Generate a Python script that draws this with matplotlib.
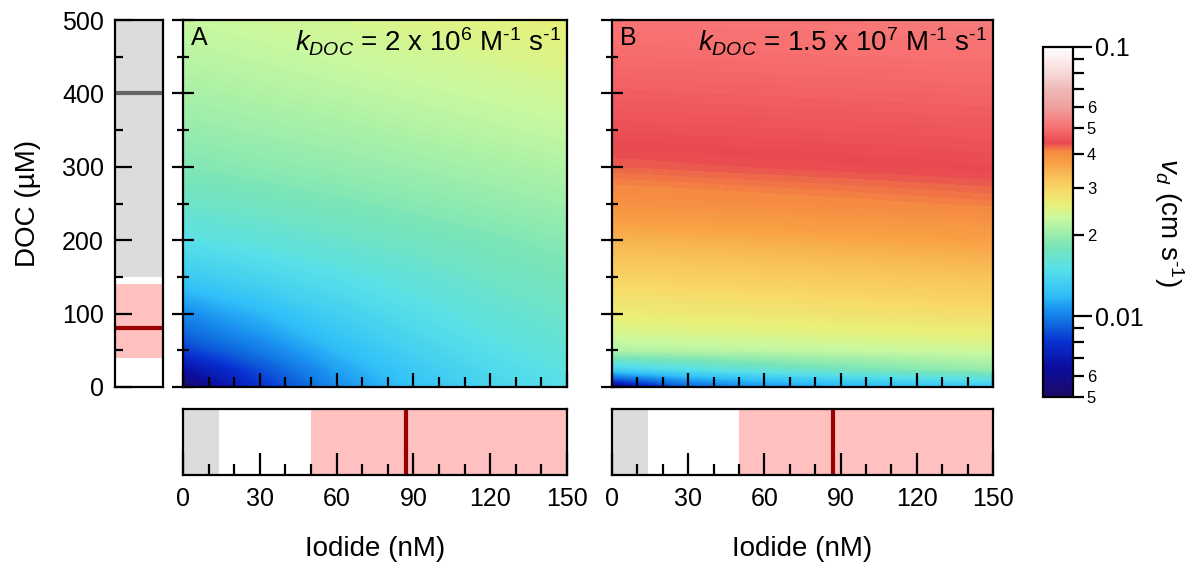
import numpy as np
import matplotlib
matplotlib.use("Agg")
import matplotlib.pyplot as plt
from matplotlib.colors import LinearSegmentedColormap, LogNorm
from matplotlib.cm import ScalarMappable
from matplotlib.ticker import MultipleLocator, FixedLocator, FuncFormatter

plt.rcParams['font.family'] = ['Liberation Sans', 'DejaVu Sans']
plt.rcParams['mathtext.fontset'] = 'custom'
plt.rcParams['mathtext.rm'] = 'Liberation Sans'
plt.rcParams['mathtext.it'] = 'Liberation Sans:italic'

# grid the deposition velocity was read on
iodide_nM = [0, 15, 30, 60, 90, 120, 150]
doc_uM = [0, 10, 25, 50, 75, 100, 150, 200, 250, 300, 350, 400, 450, 500]

# v_d (cm s-1), rows = DOC, cols = iodide; k_DOC = 2e6
vd_A = [
    [0.0050, 0.0065, 0.0078, 0.0103, 0.0122, 0.0138, 0.0150],
    [0.0057, 0.0070, 0.0082, 0.0106, 0.0125, 0.0140, 0.0152],
    [0.0066, 0.0076, 0.0087, 0.0110, 0.0128, 0.0143, 0.0155],
    [0.0082, 0.0090, 0.0098, 0.0118, 0.0135, 0.0149, 0.0160],
    [0.0093, 0.0100, 0.0108, 0.0126, 0.0141, 0.0155, 0.0165],
    [0.0102, 0.0110, 0.0117, 0.0133, 0.0147, 0.0160, 0.0170],
    [0.0128, 0.0133, 0.0138, 0.0149, 0.0160, 0.0171, 0.0180],
    [0.0150, 0.0154, 0.0158, 0.0166, 0.0174, 0.0182, 0.0190],
    [0.0169, 0.0172, 0.0175, 0.0182, 0.0189, 0.0196, 0.0203],
    [0.0185, 0.0188, 0.0191, 0.0197, 0.0203, 0.0209, 0.0215],
    [0.0198, 0.0201, 0.0204, 0.0209, 0.0215, 0.0221, 0.0227],
    [0.0210, 0.0212, 0.0215, 0.0220, 0.0226, 0.0232, 0.0238],
    [0.0220, 0.0222, 0.0225, 0.0231, 0.0237, 0.0243, 0.0249],
    [0.0230, 0.0232, 0.0235, 0.0241, 0.0247, 0.0253, 0.0260],
]
# k_DOC = 1.5e7
vd_B = [
    [0.0050, 0.0072, 0.0090, 0.0105, 0.0113, 0.0119, 0.0125],
    [0.0085, 0.0097, 0.0108, 0.0121, 0.0132, 0.0141, 0.0150],
    [0.0135, 0.0143, 0.0150, 0.0165, 0.0178, 0.0190, 0.0200],
    [0.0215, 0.0217, 0.0219, 0.0223, 0.0227, 0.0231, 0.0235],
    [0.0243, 0.0245, 0.0247, 0.0251, 0.0255, 0.0259, 0.0263],
    [0.0265, 0.0267, 0.0269, 0.0273, 0.0278, 0.0283, 0.0288],
    [0.0302, 0.0304, 0.0306, 0.0311, 0.0316, 0.0321, 0.0326],
    [0.0345, 0.0347, 0.0349, 0.0354, 0.0359, 0.0364, 0.0370],
    [0.0395, 0.0397, 0.0399, 0.0403, 0.0407, 0.0411, 0.0415],
    [0.0428, 0.0429, 0.0431, 0.0434, 0.0437, 0.0440, 0.0443],
    [0.0450, 0.0451, 0.0452, 0.0454, 0.0456, 0.0458, 0.0460],
    [0.0470, 0.0471, 0.0472, 0.0474, 0.0476, 0.0478, 0.0480],
    [0.0490, 0.0491, 0.0492, 0.0494, 0.0496, 0.0498, 0.0500],
    [0.0510, 0.0511, 0.0512, 0.0514, 0.0516, 0.0518, 0.0520],
]

# observed ranges shown in the side strips
doc_grey = (150, 500)
doc_pink = (40, 140)
doc_median = 80
doc_line = 400
iodide_grey = (0, 14)
iodide_pink = (50, 150)
iodide_median = 87

vmin, vmax = 0.005, 0.1

# colour scale anchors (value, colour)
cmap_vals = [0.005, 0.0065, 0.008, 0.0095, 0.0105, 0.012, 0.015, 0.018, 0.021,
             0.023, 0.026, 0.0295, 0.033, 0.037, 0.041, 0.044, 0.05, 0.06, 0.07,
             0.08, 0.1]
cmap_cols = ['#1e0a64', '#0a0ea0', '#0830d0', '#1070e0', '#1a90f0', '#30c0f8',
             '#58e0e8', '#78e4b8', '#a8f0a8', '#c8f8a0', '#e8f078', '#f8d868',
             '#f8c058', '#f8a044', '#f58a42', '#e84850', '#f87070', '#f0a0a0',
             '#f0b8b8', '#f8d8d8', '#ffffff']
pos = [np.log(v / vmin) / np.log(vmax / vmin) for v in cmap_vals]
cmap = LinearSegmentedColormap.from_list('vd', list(zip(pos, cmap_cols)), N=512)

fig = plt.figure(figsize=(11.97, 5.69), dpi=100)
W, H = 1197, 569


def box(x0, y0, x1, y1):
    return [x0 / W, 1 - y1 / H, (x1 - x0) / W, (y1 - y0) / H]


ax_strip = fig.add_axes(box(115, 20, 163, 387))
ax_a = fig.add_axes(box(183, 20, 567, 387))
ax_b = fig.add_axes(box(612, 20, 993, 387))
ax_ia = fig.add_axes(box(183, 409, 567, 475))
ax_ib = fig.add_axes(box(612, 409, 993, 475))
cax = fig.add_axes(box(1043, 47, 1073, 397))

fs = 18
fl = 20
lw = 1.6

# DOC strip
ax_strip.axhspan(*doc_grey, color='#dcdcdc', lw=0)
ax_strip.axhspan(*doc_pink, color='#ffc0c0', lw=0)
ax_strip.axhline(doc_median, color='#9b0000', lw=3)
ax_strip.axhline(doc_line, color='#666666', lw=3)
ax_strip.set_xlim(0, 1)
ax_strip.set_ylim(0, 500)
ax_strip.set_xticks([])
ax_strip.yaxis.set_major_locator(MultipleLocator(100))
ax_strip.yaxis.set_minor_locator(MultipleLocator(50))
ax_strip.tick_params(axis='y', which='major', direction='in', length=12, width=lw,
                     labelsize=fs, pad=8)
ax_strip.tick_params(axis='y', which='minor', direction='in', length=6, width=lw)
ax_strip.set_ylabel('DOC (µM)', fontsize=fl, labelpad=15)

levels = np.linspace(np.log10(vmin), np.log10(vmax), 241)
for ax, vd, tag, txt in [
        (ax_a, vd_A, 'A', r'$k_{DOC}$ = 2 x 10$^{6}$ M$^{\text{-}1}$ s$^{\text{-}1}$'),
        (ax_b, vd_B, 'B', r'$k_{DOC}$ = 1.5 x 10$^{7}$ M$^{\text{-}1}$ s$^{\text{-}1}$')]:
    ax.contourf(iodide_nM, doc_uM, np.log10(vd), levels=levels, cmap=cmap,
                antialiased=False)
    ax.set_xlim(0, 150)
    ax.set_ylim(0, 500)
    ax.yaxis.set_major_locator(MultipleLocator(100))
    ax.yaxis.set_minor_locator(MultipleLocator(50))
    ax.xaxis.set_major_locator(MultipleLocator(30))
    ax.xaxis.set_minor_locator(MultipleLocator(10))
    ax.tick_params(axis='y', which='major', direction='inout', length=16, width=lw,
                   labelleft=False)
    ax.tick_params(axis='y', which='minor', direction='inout', length=9, width=lw)
    ax.tick_params(axis='x', which='major', direction='in', length=10, width=lw,
                   labelbottom=False)
    ax.tick_params(axis='x', which='minor', direction='in', length=7, width=lw)
    ax.text(0.02, 0.985, tag, transform=ax.transAxes, ha='left', va='top', fontsize=fs)
    ax.text(0.985, 0.985, txt, transform=ax.transAxes, ha='right', va='top', fontsize=20)

# iodide strips
for ax in (ax_ia, ax_ib):
    ax.axvspan(*iodide_grey, color='#dcdcdc', lw=0)
    ax.axvspan(*iodide_pink, color='#ffc0c0', lw=0)
    ax.axvline(iodide_median, color='#9b0000', lw=3)
    ax.set_xlim(0, 150)
    ax.set_ylim(0, 1)
    ax.set_yticks([])
    ax.xaxis.set_major_locator(MultipleLocator(30))
    ax.xaxis.set_minor_locator(MultipleLocator(10))
    ax.tick_params(axis='x', which='major', direction='in', length=16, width=lw,
                   labelsize=fs, pad=9)
    ax.tick_params(axis='x', which='minor', direction='in', length=8, width=lw)
    ax.set_xlabel('Iodide (nM)', fontsize=fl, labelpad=18)

for ax in (ax_strip, ax_a, ax_b, ax_ia, ax_ib):
    for s in ax.spines.values():
        s.set_linewidth(lw)

# colour bar
sm = ScalarMappable(norm=LogNorm(vmin, vmax), cmap=cmap)
cb = fig.colorbar(sm, cax=cax)
cb.outline.set_linewidth(lw)
cax.yaxis.set_major_locator(FixedLocator([0.01, 0.1]))
cax.yaxis.set_minor_locator(FixedLocator([0.005, 0.006, 0.007, 0.008, 0.009,
                                          0.02, 0.03, 0.04, 0.05, 0.06, 0.07, 0.08, 0.09]))
cax.yaxis.set_major_formatter(FuncFormatter(lambda v, p: '0.1' if v > 0.05 else '0.01'))


def minor_label(v, p):
    d = int(round(v / (0.01 if v >= 0.0099 else 0.001)))
    return str(d) if d <= 6 else ''


cax.yaxis.set_minor_formatter(FuncFormatter(minor_label))
cax.tick_params(which='major', direction='out', length=14, width=lw, labelsize=fs, pad=2)
cax.tick_params(which='minor', direction='out', length=8, width=lw, labelsize=12, pad=2)
cax.set_ylabel(r'$v_d$ (cm s$^{\text{-}1}$)', fontsize=fl, rotation=270, labelpad=30)

fig.savefig('out.png', dpi=100)
